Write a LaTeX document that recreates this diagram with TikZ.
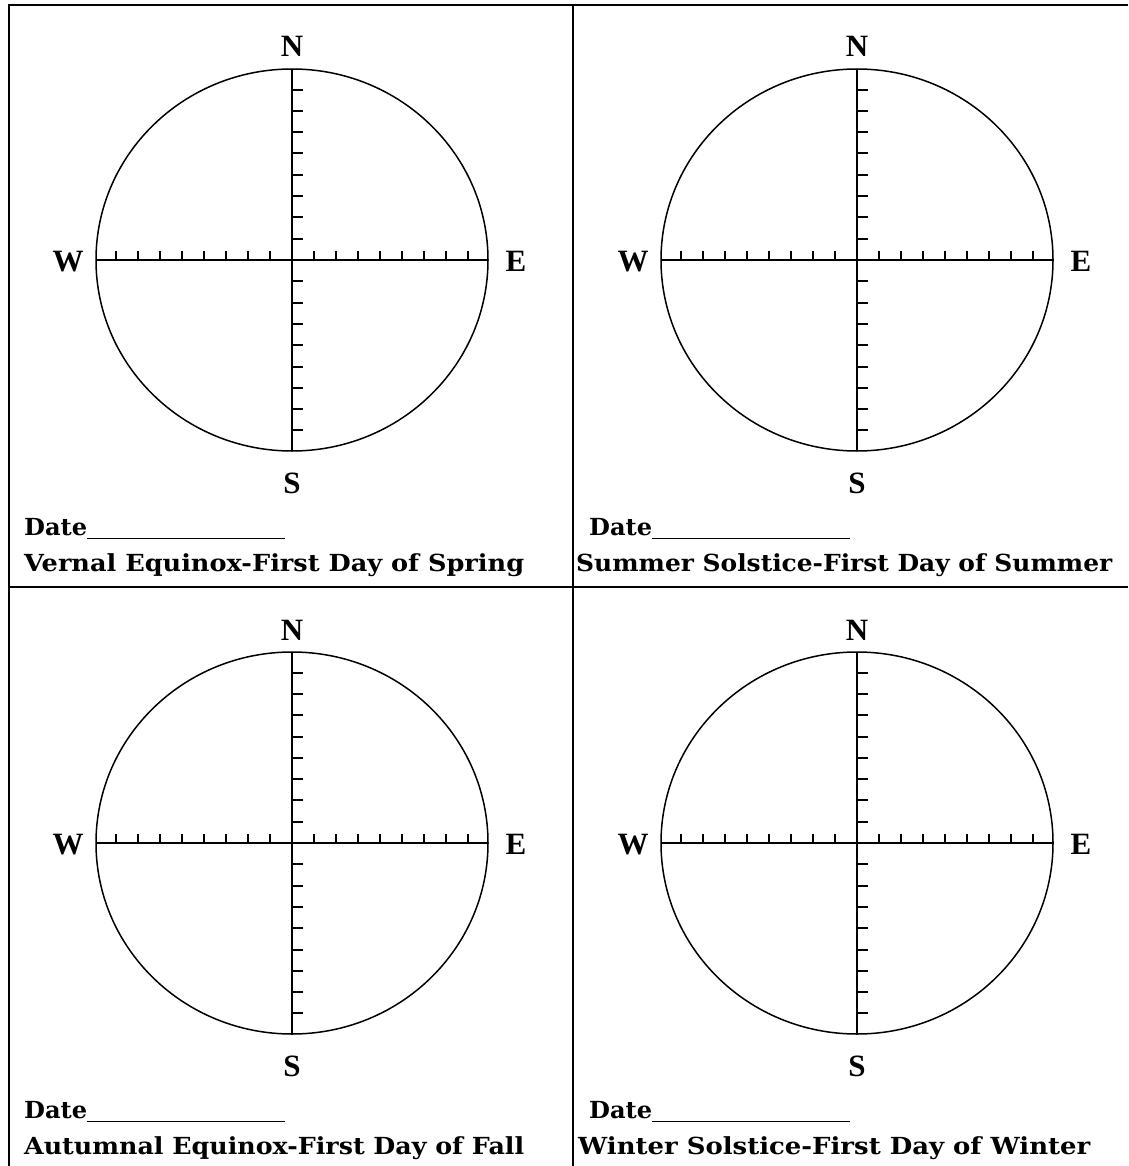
\documentclass[tikz,border=0pt]{standalone}
\usepackage{fontspec}
\setmainfont{Liberation Serif}
\newfontfamily\lblfont{DejaVu Serif}
\usepackage{graphicx}
\begin{document}
\begin{tikzpicture}[x=1pt,y=-1pt,
  frameln/.style={line width=2pt},
  rimln/.style={line width=1.5pt},
  axisln/.style={line width=2pt},
  tickln/.style={line width=2pt},
  compass/.style={font=\fontsize{31}{31}\selectfont\bfseries, inner sep=0pt, anchor=base},
  lbl/.style={font=\lblfont\fontsize{23.5}{23.5}\selectfont\bfseries, inner sep=0pt, anchor=base west},
]
\useasboundingbox (0,0) rectangle (1128,1166);
% frame
\coordinate (tl) at (9,5);
\coordinate (tr) at (1128,5);
\coordinate (bl) at (9,1166);
\coordinate (mt) at (573,5);
\coordinate (mb) at (573,1166);
\coordinate (ml) at (9,587);
\coordinate (mr) at (1128,587);
\draw[frameln] (tr) -- (tl) -- (bl);
\draw[frameln] (mt) -- (mb);
\draw[frameln] (ml) -- (mr);

\newcommand\compasspanel[9]{%
  % #1 name, #2 cx, #3 cy, #4 date x, #5 date baseline, #6 title x, #7 title baseline, #8 title width, #9 title
  \coordinate (#1c) at (#2,#3);
  \coordinate (#1w) at (#2-196,#3);
  \coordinate (#1e) at (#2+196,#3);
  \coordinate (#1n) at (#2,#3-191);
  \coordinate (#1s) at (#2,#3+191);
  \draw[rimln] (#1c) ellipse [x radius=196, y radius=191];
  \draw[axisln] (#1w) -- (#1e);
  \draw[axisln] (#1n) -- (#1s);
  \foreach \k in {1,...,8} {
    \draw[tickln] ([xshift=22*\k pt]#1c) -- ++(0,-9);
    \draw[tickln] ([xshift=-22*\k pt]#1c) -- ++(0,-9);
    \draw[tickln] ([yshift=21.3*\k pt]#1c) -- ++(11,0);
    \draw[tickln] ([yshift=-21.3*\k pt]#1c) -- ++(11,0);
  }
  \node[compass] (#1N) at (#2,57+#3-260) {N};
  \node[compass] (#1S) at (#2,493+#3-260) {S};
  \node[compass] (#1W) at (#2-224,271+#3-260) {W};
  \node[compass] (#1E) at (#2+224,271+#3-260) {E};
  \node[lbl] (#1date) at (#4,#5) {\resizebox{63pt}{\height}{Date}\rule[-4pt]{198pt}{1.5pt}};
  \node[lbl] (#1title) at (#6,#7) {\resizebox{#8pt}{\height}{#9}};
}
\compasspanel{p1}{292}{260}{24}{535}{24}{571}{500}{Vernal Equinox-First Day of Spring}
\compasspanel{p2}{857}{260}{589}{535}{576}{571}{536}{Summer Solstice-First Day of Summer}
\compasspanel{p3}{292}{843}{24}{1118}{24}{1154}{500}{Autumnal Equinox-First Day of Fall}
\compasspanel{p4}{857}{843}{589}{1118}{578}{1154}{512}{Winter Solstice-First Day of Winter}
\end{tikzpicture}
\end{document}
